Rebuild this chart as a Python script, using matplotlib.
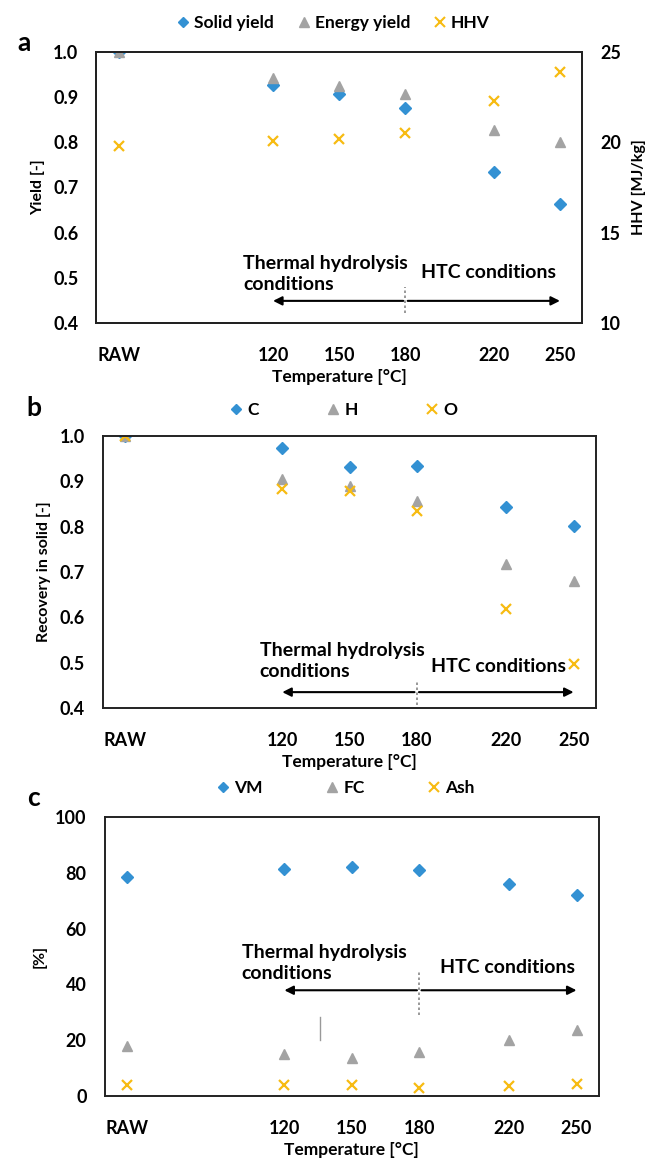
import matplotlib
matplotlib.use('Agg')
import matplotlib.pyplot as plt
from matplotlib.lines import Line2D

plt.rcParams['font.family'] = ['Lato', 'DejaVu Sans']
plt.rcParams['font.weight'] = 'bold'
plt.rcParams['axes.labelweight'] = 'bold'

# ---------------- data ----------------
tick_labels = ['RAW', '120', '150', '180', '220', '250']
x_pos = [50, 120, 150, 180, 220, 250]          # RAW drawn left of 120 °C

solid_yield = [1.0, 0.926, 0.906, 0.876, 0.735, 0.663]
energy_yield = [1.0, 0.943, 0.925, 0.908, 0.827, 0.801]
hhv = [19.8, 20.1, 20.2, 20.5, 22.3, 23.9]

rec_C = [1.0, 0.974, 0.932, 0.934, 0.844, 0.801]
rec_H = [1.0, 0.906, 0.890, 0.857, 0.717, 0.680]
rec_O = [1.0, 0.884, 0.879, 0.835, 0.619, 0.497]

vm = [78.5, 81.4, 82.2, 81.1, 76.1, 72.2]
fc = [17.8, 14.9, 13.7, 15.8, 20.2, 23.5]
ash = [4.1, 3.8, 3.8, 3.0, 3.5, 4.2]

BLUE = '#3391d3'
GRAY = '#a3a3a3'
YEL = '#f7bb12'

fig = plt.figure(figsize=(6.51, 11.6), dpi=100)
W, H = 651, 1160


def axes_px(l, r, t, b):
    return fig.add_axes([l / W, 1 - b / H, (r - l) / W, (b - t) / H])


TICK_FS = 13
TEXT_FS = 14


def style(ax):
    ax.set_xlim(40, 260)
    ax.set_xticks(x_pos)
    ax.set_xticklabels(tick_labels)
    ax.tick_params(axis='both', length=0, labelsize=TICK_FS)
    ax.tick_params(axis='x', pad=17)
    ax.tick_params(axis='y', pad=13)
    for s in ax.spines.values():
        s.set_linewidth(1.4)
        s.set_color('#222222')
    ax.set_xlabel('Temperature [°C]', fontsize=12.5, labelpad=4)


def conditions(ax, th_xy, htc_xy, arrow_y, dot_y):
    ax.text(th_xy[0], th_xy[1], 'Thermal hydrolysis\nconditions', ha='left',
            va='center', fontsize=TEXT_FS, linespacing=1.3)
    ax.text(htc_xy[0], htc_xy[1], 'HTC conditions', ha='left', va='center',
            fontsize=TEXT_FS)
    ap = dict(arrowstyle='-|>', color='black', lw=1.5, mutation_scale=13,
              shrinkA=0, shrinkB=0)
    ax.annotate('', xy=(120, arrow_y), xytext=(179, arrow_y), arrowprops=ap)
    ax.annotate('', xy=(250, arrow_y), xytext=(181, arrow_y), arrowprops=ap)
    ax.plot([180, 180], dot_y, ls=(0, (1.5, 1.5)), color='#888888', lw=1.2)


def legend(ax, handles, labels, y, spacing):
    ax.legend(handles, labels, loc='center', bbox_to_anchor=(0.487, y),
              ncol=3, frameon=False, fontsize=12.5, handlelength=0.8,
              handletextpad=0.25, columnspacing=spacing, borderaxespad=0)


MS_D = 6.5
MS_T = 7.5
MS_X = 7.5

# ---------------- panel a ----------------
axa = axes_px(96.5, 582, 52, 323)
axa.plot(x_pos, solid_yield, 'D', color=BLUE, ms=MS_D, ls='none')
axa.plot(x_pos, energy_yield, '^', color=GRAY, ms=MS_T, ls='none')
axa.set_ylim(0.4, 1.0)
axa.set_yticks([0.4, 0.5, 0.6, 0.7, 0.8, 0.9, 1.0])
axa.set_yticklabels(['0.4', '0.5', '0.6', '0.7', '0.8', '0.9', '1.0'])
style(axa)
axa.set_ylabel('Yield [-]', fontsize=11.5, labelpad=6)
axb2 = axa.twinx()
axb2.plot(x_pos, hhv, 'x', color=YEL, ms=MS_X, mew=1.6, ls='none')
axb2.set_ylim(10, 25)
axb2.set_yticks([10, 15, 20, 25])
axb2.tick_params(axis='y', length=0, labelsize=TICK_FS, pad=13)
axb2.set_ylabel('HHV [MJ/kg]', fontsize=11.5, labelpad=8)
for s in axb2.spines.values():
    s.set_linewidth(1.4)
    s.set_color('#222222')
conditions(axa, (106.4, 0.509), (187, 0.511), 0.449, [0.423, 0.480])
h = [Line2D([], [], marker='D', color=BLUE, ls='none', ms=5.5),
     Line2D([], [], marker='^', color=GRAY, ls='none', ms=6.5),
     Line2D([], [], marker='x', color=YEL, ls='none', ms=7, mew=1.5)]
legend(axa, h, ['Solid yield', 'Energy yield', 'HHV'], 1.107, 1.3)
fig.text(17 / W, 1 - 43 / H, 'a', fontsize=19, fontweight='bold', va='center')

# ---------------- panel b ----------------
axb = axes_px(103, 596, 436, 708)
axb.plot(x_pos, rec_C, 'D', color=BLUE, ms=MS_D, ls='none')
axb.plot(x_pos, rec_H, '^', color=GRAY, ms=MS_T, ls='none')
axb.plot(x_pos, rec_O, 'x', color=YEL, ms=MS_X, mew=1.6, ls='none')
axb.set_ylim(0.4, 1.0)
axb.set_yticks([0.4, 0.5, 0.6, 0.7, 0.8, 0.9, 1.0])
axb.set_yticklabels(['0.4', '0.5', '0.6', '0.7', '0.8', '0.9', '1.0'])
style(axb)
axb.set_ylabel('Recovery in solid [-]', fontsize=11.5, labelpad=6)
conditions(axb, (110, 0.503), (186.3, 0.492), 0.435, [0.406, 0.461])
legend(axb, h, ['C', 'H', 'O'], 1.096, 3.9)
fig.text(26 / W, 1 - 408 / H, 'b', fontsize=19, fontweight='bold', va='center')

# ---------------- panel c ----------------
axc = axes_px(104.6, 599, 817, 1096)
axc.plot(x_pos, vm, 'D', color=BLUE, ms=MS_D, ls='none')
axc.plot(x_pos, fc, '^', color=GRAY, ms=MS_T, ls='none')
axc.plot(x_pos, ash, 'x', color=YEL, ms=MS_X, mew=1.6, ls='none')
axc.set_ylim(0, 100)
axc.set_yticks([0, 20, 40, 60, 80, 100])
style(axc)
axc.set_ylabel('[%]', fontsize=11.5, labelpad=6)
conditions(axc, (101, 47.7), (189.4, 46.1), 37.9, [28.9, 44.3])
axc.plot([136, 136], [20.0, 28.2], color='#999999', lw=1.0)
legend(axc, h, ['VM', 'FC', 'Ash'], 1.104, 3.6)
fig.text(27 / W, 1 - 798 / H, 'c', fontsize=19, fontweight='bold', va='center')

fig.savefig('out.png', dpi=100)
